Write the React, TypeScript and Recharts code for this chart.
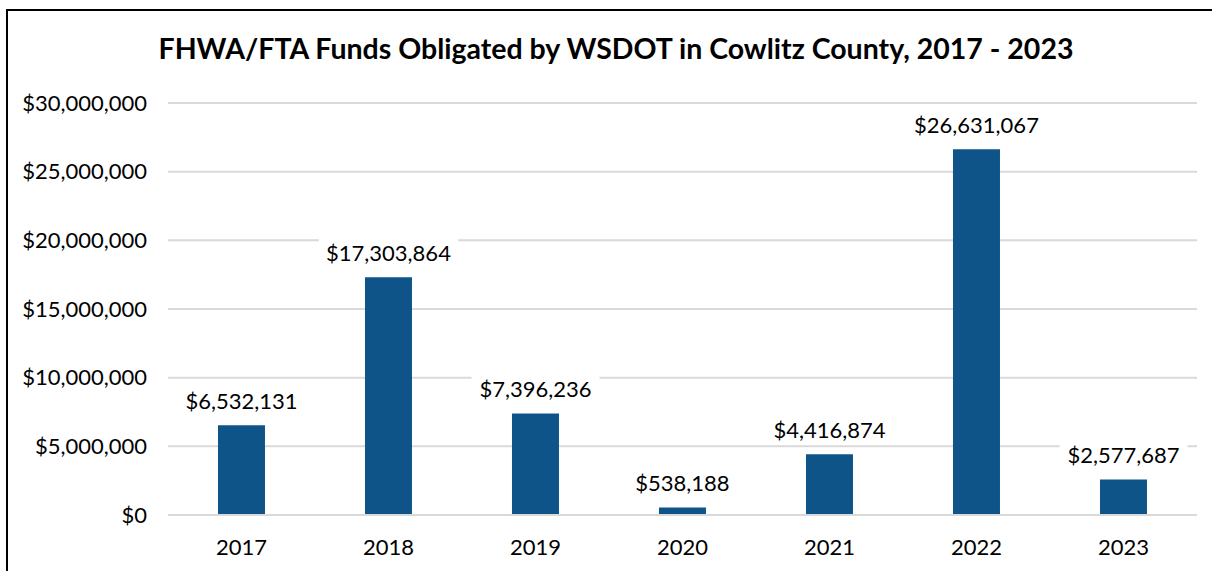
import React from "react";
import { BarChart, Bar, XAxis, YAxis, CartesianGrid, LabelList } from "recharts";

const years = ["2017", "2018", "2019", "2020", "2021", "2022", "2023"];
const funds = [6532131, 17303864, 7396236, 538188, 4416874, 26631067, 2577687];
const yTicks = [0, 5000000, 10000000, 15000000, 20000000, 25000000, 30000000];
const title = "FHWA/FTA Funds Obligated by WSDOT in Cowlitz County, 2017 - 2023";

const data = years.map((y, i) => ({ year: y, value: funds[i] }));

const FONT = "Lato, 'Open Sans', sans-serif";
const money = (v: number) => "$" + v.toLocaleString("en-US");

const ValueLabel = (props: any) => {
  const { x, y, width, value } = props;
  const text = money(Number(value));
  const cx = Number(x) + Number(width) / 2;
  const tw = text.length * 11.4 + 14;
  const cy = Number(y) - 25;
  return (
    <g>
      <rect x={cx - tw / 2} y={cy - 15} width={tw} height={30} fill="#ffffff" />
      <text x={cx} y={cy} textAnchor="middle" dominantBaseline="central" fontSize={22} fontFamily={FONT} fill="#000000">
        {text}
      </text>
    </g>
  );
};

export default function App() {
  return (
    <div style={{ position: "absolute", left: 0, top: 0, width: 1212, height: 571, overflow: "hidden", background: "#fff" }}>
      <div style={{ position: "absolute", left: 6, top: 9, width: 1300, height: 700, borderLeft: "2px solid #000", borderTop: "2px solid #000" }} />
      <div style={{ position: "absolute", left: 0, top: 31, width: 1232, textAlign: "center", fontFamily: FONT, fontWeight: 700, fontSize: 28.5, color: "#000", whiteSpace: "nowrap" }}>
        {title}
      </div>
      <div style={{ position: "absolute", left: 0, top: 0 }}>
        <BarChart width={1212} height={571} data={data} margin={{ top: 103, right: 15, bottom: 26, left: 0 }} barCategoryGap="34%">
          <CartesianGrid vertical={false} stroke="#D9D9D9" strokeWidth={2} />
          <XAxis
            dataKey="year"
            tickLine={false}
            axisLine={{ stroke: "#D9D9D9", strokeWidth: 2 }}
            tick={{ fontSize: 22, fontFamily: FONT, fill: "#000" }}
            tickMargin={18}
          />
          <YAxis
            width={168}
            domain={[0, 30000000]}
            ticks={yTicks}
            tickLine={false}
            axisLine={false}
            tickFormatter={(v: number) => money(v)}
            tick={{ fontSize: 22, fontFamily: FONT, fill: "#000" }}
            tickMargin={15}
          />
          <Bar dataKey="value" fill="#0E5489" isAnimationActive={false}>
            <LabelList dataKey="value" content={ValueLabel} />
          </Bar>
        </BarChart>
      </div>
    </div>
  );
}
